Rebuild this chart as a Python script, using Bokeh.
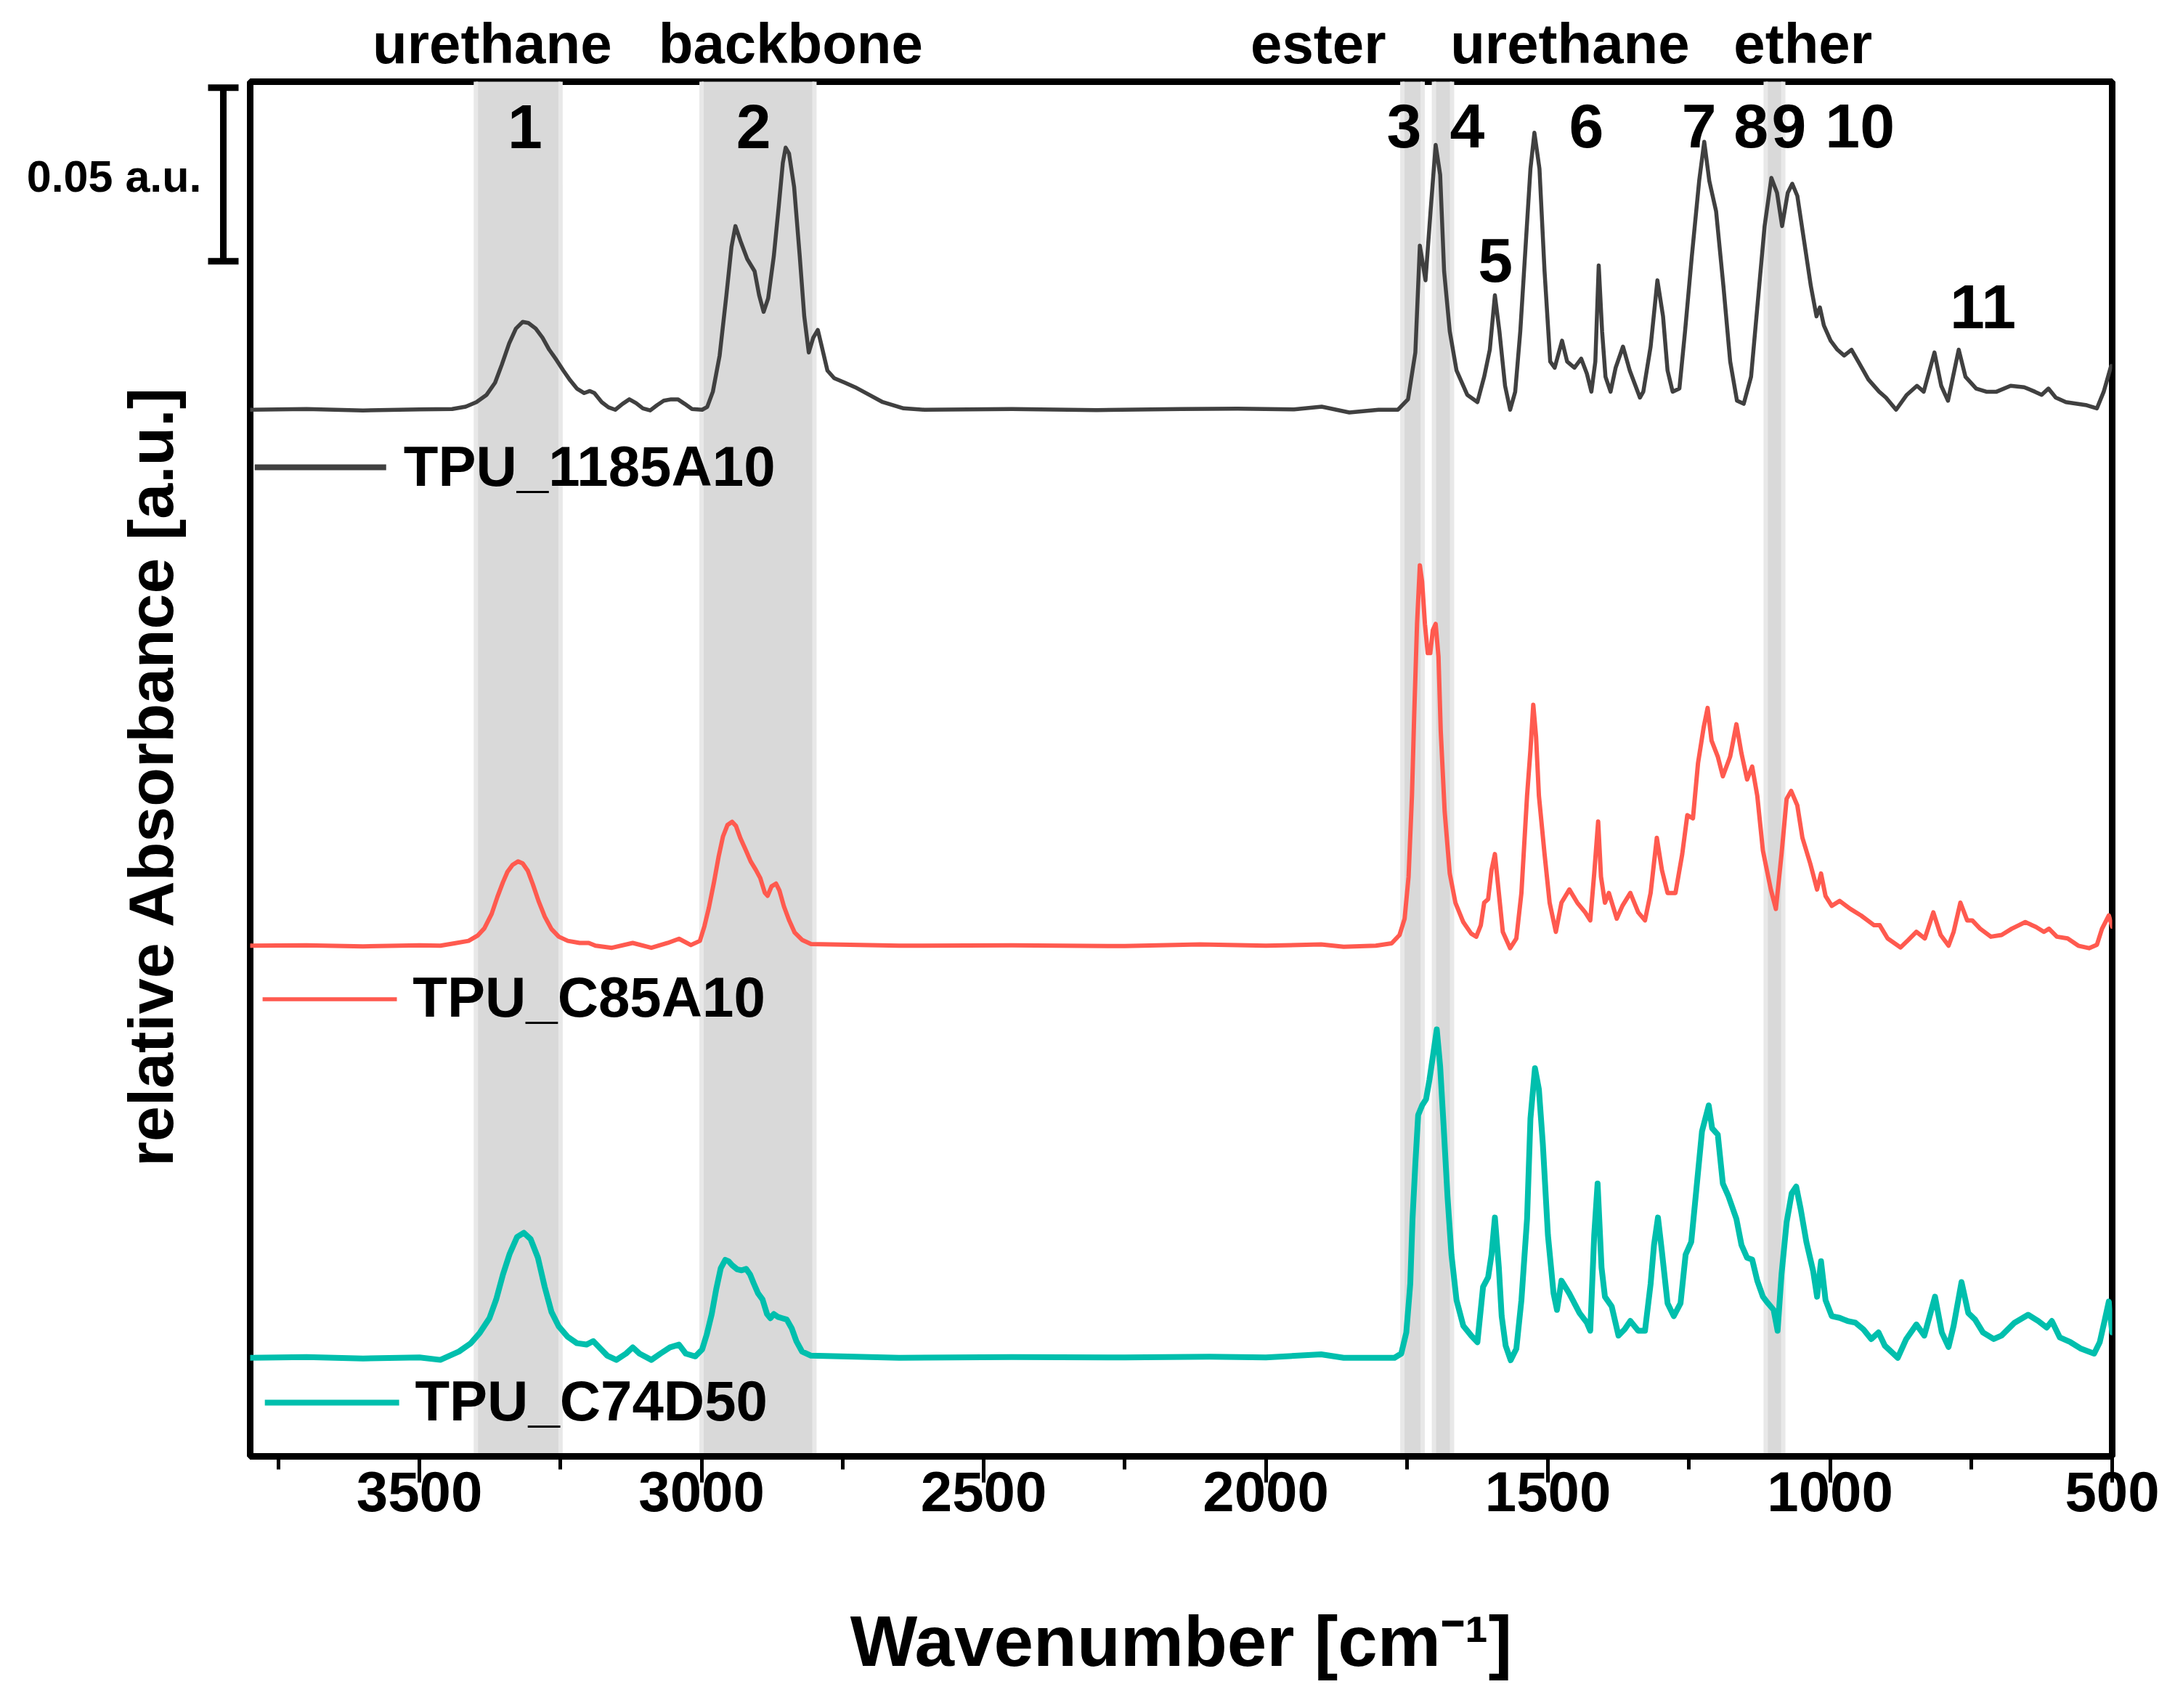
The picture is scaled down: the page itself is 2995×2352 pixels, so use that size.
import numpy as np
from bokeh.plotting import figure
from bokeh.models import Range1d, FixedTicker, Label
from bokeh.layouts import row, column
from bokeh.embed import file_html
from bokeh.resources import INLINE

FONT = "Liberation Sans"

# ---------------- data ----------------
gray_wn = [3800, 3700, 3600, 3500, 3442, 3418, 3399, 3381, 3366, 3354, 3341, 3329, 3317, 3307, 3294, 3282, 3270,
           3257, 3245, 3233, 3221, 3208, 3198, 3190, 3177, 3165, 3153, 3140, 3128, 3116, 3104, 3091, 3079, 3067,
           3054, 3042, 3030, 3017, 2999, 2990, 2980, 2968, 2956, 2947, 2940, 2931, 2919, 2906, 2898, 2890, 2882,
           2872, 2863, 2856, 2851, 2845, 2836, 2826, 2818, 2810, 2802, 2794, 2787, 2777, 2765, 2746, 2728, 2703,
           2679, 2642, 2605, 2450, 2300, 2150, 2050, 1950,
           1901, 1852, 1800, 1766, 1748, 1735, 1727, 1717, 1708, 1699, 1691, 1684, 1674, 1662, 1643, 1625, 1613,
           1603, 1594, 1586, 1576, 1567, 1558, 1549, 1539, 1531, 1524, 1515, 1506, 1496, 1488, 1475, 1466, 1453,
           1441, 1431, 1423, 1416, 1410, 1404, 1398, 1389, 1380, 1367, 1355, 1337, 1331, 1318, 1306, 1296, 1288,
           1279, 1267, 1257, 1245, 1232, 1223, 1214, 1202, 1189, 1177, 1165, 1153, 1140, 1128, 1116, 1104, 1094,
           1085, 1075, 1067, 1058, 1046, 1034, 1024, 1018, 1011, 999, 987, 975, 962, 950, 932, 913, 901, 883, 864,
           846, 834, 815, 803, 791, 772, 760, 741, 723, 705, 680, 656, 637, 625, 613, 600, 582, 545, 527, 515, 502,
           500]
gray_abs = [0.0000, 0.0002, -0.0002, 0.0001, 0.0002, 0.0009, 0.0022, 0.0043, 0.0078, 0.0130, 0.0191, 0.0234,
            0.0253, 0.0250, 0.0234, 0.0208, 0.0173, 0.0143, 0.0113, 0.0085, 0.0061, 0.0048, 0.0054, 0.0048,
            0.0022, 0.0007, 0.0000, 0.0017, 0.0030, 0.0019, 0.0004, -0.0002, 0.0013, 0.0026, 0.0030, 0.0030,
            0.0017, 0.0002, 0.0000, 0.0008, 0.0052, 0.0156, 0.0330, 0.0469, 0.0529, 0.0486, 0.0434, 0.0399,
            0.0330, 0.0282, 0.0321, 0.0442, 0.0590, 0.0711, 0.0755, 0.0738, 0.0642, 0.0442, 0.0269, 0.0165,
            0.0208, 0.0230, 0.0182, 0.0113, 0.0091, 0.0078, 0.0065, 0.0043, 0.0022, 0.0004, 0.0000, 0.0002,
            -0.0001, 0.0002, 0.0003, 0.0001,
            0.0009, -0.0008, 0.0000, 0.0000, 0.0030, 0.0165, 0.0473, 0.0373, 0.0572,
            0.0763, 0.0677, 0.0399, 0.0226, 0.0113, 0.0043, 0.0022, 0.0095, 0.0173, 0.0330, 0.0226, 0.0069,
            0.0000, 0.0052, 0.0226, 0.0486, 0.0694, 0.0798, 0.0694, 0.0399, 0.0139, 0.0121, 0.0199, 0.0139,
            0.0121, 0.0147, 0.0104, 0.0052, 0.0139, 0.0416, 0.0226, 0.0095, 0.0052, 0.0121, 0.0182, 0.0113,
            0.0035, 0.0052, 0.0182, 0.0373, 0.0269, 0.0113, 0.0052, 0.0061, 0.0226, 0.0442, 0.0659, 0.0772,
            0.0659, 0.0572, 0.0356, 0.0139, 0.0026, 0.0017, 0.0095, 0.0312, 0.0529, 0.0668, 0.0625, 0.0529,
            0.0625, 0.0651, 0.0616, 0.0486, 0.0356, 0.0269, 0.0295, 0.0243, 0.0199, 0.0173, 0.0156, 0.0173,
            0.0139, 0.0087, 0.0052, 0.0035, 0.0000, 0.0043, 0.0069, 0.0052, 0.0165, 0.0069, 0.0026, 0.0173,
            0.0095, 0.0061, 0.0052, 0.0052, 0.0069, 0.0065, 0.0052, 0.0043, 0.0061, 0.0035, 0.0022, 0.0013,
            0.0004, 0.0052, 0.0126, 0.0126]

red_wn = [3800, 3700, 3600, 3500, 3463, 3438, 3413, 3397, 3385, 3372, 3362, 3352, 3344, 3335, 3325, 3317, 3308,
          3299, 3289, 3278, 3266, 3253, 3237, 3216, 3200, 3188, 3159, 3122, 3089, 3060, 3040, 3019, 3003, 2995,
          2987, 2978, 2970, 2962, 2954, 2946, 2939, 2931, 2921, 2913, 2904, 2896, 2888, 2883, 2876, 2868, 2862,
          2854, 2845, 2835, 2822, 2806, 2650, 2450, 2250, 2117, 2000, 1902, 1862, 1805, 1777,
          1763, 1754, 1747, 1741, 1737, 1732, 1727, 1723, 1718, 1713, 1708.5, 1704, 1699, 1694, 1690, 1683, 1674,
          1664, 1650, 1636, 1627, 1619, 1613, 1606, 1600, 1594, 1587, 1580, 1567, 1556, 1547, 1537, 1531, 1526,
          1521, 1516, 1506, 1497, 1486, 1476, 1462, 1448, 1434, 1425, 1418, 1411, 1406, 1399, 1392, 1378, 1368,
          1354, 1340, 1328, 1318, 1307, 1298, 1288, 1274, 1262, 1253, 1243, 1234, 1224, 1217, 1210, 1199, 1190,
          1177, 1166, 1157, 1147, 1138, 1129, 1119, 1105, 1096, 1086, 1077, 1069, 1058, 1049, 1035, 1023, 1016,
          1008, 997, 983, 964, 945, 922, 912, 898, 875, 861, 847, 832, 817, 804, 790, 781, 769, 757, 748, 734,
          715, 696, 678, 654, 635, 621, 612, 598, 579, 560, 541, 527, 518, 506, 500]
red_abs = [0.0000, 0.0001, -0.0002, 0.0001, 0.0000, 0.0007, 0.0014, 0.0029, 0.0050, 0.0092, 0.0140, 0.0183,
           0.0213, 0.0233, 0.0243, 0.0237, 0.0216, 0.0177, 0.0129, 0.0084, 0.0048, 0.0026, 0.0014, 0.0008,
           0.0008, 0.0000, -0.0006, 0.0008, -0.0006, 0.0008, 0.0020, 0.0002, 0.0014, 0.0056, 0.0110, 0.0183,
           0.0255, 0.0315, 0.0348, 0.0357, 0.0345, 0.0309, 0.0273, 0.0243, 0.0219, 0.0195, 0.0153, 0.0144,
           0.0171, 0.0179, 0.0159, 0.0113, 0.0074, 0.0038, 0.0017, 0.0005, 0.0000, 0.0001, -0.0001, 0.0004,
           0.0000, 0.0004, -0.0003, 0.0000, 0.0007,
           0.0031, 0.0078, 0.0199, 0.0432, 0.0666, 0.0927, 0.1096, 0.1049, 0.0927,
           0.0843, 0.0843, 0.0909, 0.0927, 0.0834, 0.0619, 0.0386, 0.0208, 0.0124, 0.0068, 0.0035, 0.0026,
           0.0059, 0.0124, 0.0134, 0.0218, 0.0264, 0.0152, 0.0040, -0.0007, 0.0021, 0.0152, 0.0432, 0.0563,
           0.0694, 0.0601, 0.0432, 0.0264, 0.0124, 0.0040, 0.0124, 0.0162, 0.0124, 0.0096, 0.0073, 0.0208,
           0.0358, 0.0199, 0.0124, 0.0152, 0.0078, 0.0115, 0.0152, 0.0096, 0.0073, 0.0152, 0.0311, 0.0218,
           0.0152, 0.0152, 0.0264, 0.0376, 0.0367, 0.0526, 0.0629, 0.0685, 0.0591, 0.0545, 0.0488, 0.0545,
           0.0638, 0.0554, 0.0479, 0.0516, 0.0432, 0.0274, 0.0162, 0.0106, 0.0264, 0.0423, 0.0446, 0.0404,
           0.0311, 0.0236, 0.0162, 0.0208, 0.0143, 0.0115, 0.0129, 0.0106, 0.0087, 0.0059, 0.0059, 0.0021,
           -0.0005, 0.0017, 0.0040, 0.0021, 0.0096, 0.0031, 0.0000, 0.0040, 0.0124, 0.0073, 0.0073, 0.0049,
           0.0026, 0.0031, 0.0049, 0.0068, 0.0054, 0.0040, 0.0049, 0.0026, 0.0021, 0.0000, -0.0007, 0.0003,
           0.0049, 0.0087, 0.0055]

teal_wn = [3800, 3700, 3600, 3500, 3463, 3430, 3409, 3393, 3376, 3364, 3352, 3340, 3327, 3315, 3303, 3290, 3278,
           3266, 3253, 3237, 3221, 3204, 3192, 3179, 3167, 3151, 3134, 3122, 3110, 3089, 3073, 3056, 3040, 3028,
           3011, 2999, 2991, 2982, 2974, 2966, 2958, 2952, 2946, 2937, 2929, 2921, 2914, 2908, 2900, 2892, 2884,
           2878, 2872, 2865, 2857, 2849, 2840, 2832, 2822, 2806, 2650, 2450, 2250, 2100, 2000, 1902, 1862, 1772,
           1760, 1751,
           1744, 1740, 1735, 1730, 1723, 1716, 1710, 1704, 1697, 1691, 1685, 1678, 1671, 1662, 1650, 1636, 1625,
           1615, 1606, 1600, 1594, 1587, 1582, 1575, 1566, 1556, 1547, 1537, 1531, 1523, 1516, 1509, 1500, 1490,
           1484, 1476, 1462, 1444, 1431, 1425, 1418, 1412, 1405, 1399, 1387, 1375, 1364, 1354, 1340, 1328, 1318,
           1312, 1305, 1298, 1288, 1277, 1265, 1256, 1246, 1237, 1227, 1215, 1209, 1199, 1190, 1180, 1166, 1157,
           1147, 1138, 1129, 1119, 1110, 1100, 1093, 1086, 1077, 1068, 1060, 1052, 1042, 1030, 1023, 1016, 1008,
           997, 983, 969, 955, 941, 927, 914, 903, 880, 865, 847, 833, 814, 802, 790, 781, 767, 755, 743, 729,
           710, 696, 673, 649, 631, 616, 607, 593, 574, 555, 532, 522, 513, 506, 500]
teal_abs = [0.0000, 0.0002, -0.0002, 0.0001, -0.0006, 0.0018, 0.0042, 0.0072, 0.0114, 0.0168, 0.0240, 0.0300,
            0.0348, 0.0360, 0.0342, 0.0288, 0.0204, 0.0132, 0.0090, 0.0060, 0.0042, 0.0038, 0.0048, 0.0026,
            0.0006, -0.0006, 0.0012, 0.0030, 0.0012, -0.0006, 0.0012, 0.0030, 0.0038, 0.0012, 0.0004, 0.0024,
            0.0066, 0.0126, 0.0198, 0.0258, 0.0282, 0.0278, 0.0267, 0.0255, 0.0252, 0.0256, 0.0240, 0.0216,
            0.0186, 0.0168, 0.0126, 0.0114, 0.0126, 0.0118, 0.0114, 0.0110, 0.0084, 0.0048, 0.0018, 0.0006,
            0.0000, 0.0002, 0.0001, 0.0003, 0.0001, 0.0010, 0.0000, 0.0000, 0.0012, 0.0073,
            0.0213, 0.0400, 0.0559, 0.0699, 0.0727, 0.0745, 0.0801, 0.0867, 0.0946,
            0.0839, 0.0671, 0.0465, 0.0297, 0.0166, 0.0092, 0.0064, 0.0045, 0.0204, 0.0232, 0.0297, 0.0404,
            0.0260, 0.0120, 0.0035, -0.0007, 0.0026, 0.0166, 0.0400, 0.0689, 0.0834, 0.0773, 0.0615, 0.0353,
            0.0185, 0.0138, 0.0222, 0.0185, 0.0129, 0.0101, 0.0078, 0.0353, 0.0502, 0.0260, 0.0176, 0.0148,
            0.0064, 0.0082, 0.0106, 0.0078, 0.0078, 0.0213, 0.0325, 0.0404, 0.0306, 0.0157, 0.0120, 0.0157,
            0.0297, 0.0334, 0.0484, 0.0652, 0.0727, 0.0661, 0.0643, 0.0502, 0.0465, 0.0400, 0.0325, 0.0288,
            0.0283, 0.0222, 0.0176, 0.0157, 0.0138, 0.0078, 0.0241, 0.0390, 0.0474, 0.0493, 0.0428, 0.0334,
            0.0250, 0.0176, 0.0278, 0.0166, 0.0120, 0.0115, 0.0106, 0.0101, 0.0082, 0.0054, 0.0073, 0.0035,
            0.0000, 0.0054, 0.0096, 0.0064, 0.0176, 0.0073, 0.0031, 0.0092, 0.0218, 0.0129, 0.0110, 0.0073,
            0.0054, 0.0064, 0.0101, 0.0124, 0.0106, 0.0087, 0.0106, 0.0059, 0.0045, 0.0026, 0.0012, 0.0045,
            0.0110, 0.0162, 0.0073]

# vertical stacking offsets of the three spectra
offsets = [0.3015, 0.1471, 0.0284]
series_names = ["TPU_1185A10", "TPU_C85A10", "TPU_C74D50"]
series_colors = ["#404040", "#ff5a4f", "#00bfad"]
series_widths = [5.5, 6, 8]
legend_widths = [8, 5.5, 8]

# highlighted bands (cm-1)
band_hi = [3400, 3000, 1758, 1702, 1114]
band_lo = [3250, 2800, 1722, 1670, 1083]

group_labels = ["urethane", "backbone", "ester", "urethane", "ether"]
group_pos = [3371, 2842, 1907, 1461, 1048]

peak_labels = ["1", "2", "3", "4", "5", "6", "7", "8", "9", "10", "11"]
peak_pos = [3313, 2908, 1755, 1643, 1593, 1432, 1232, 1140, 1073, 947, 729]
peak_y = [0.3830, 0.3830, 0.3833, 0.3833, 0.3446, 0.3833, 0.3833, 0.3833, 0.3833, 0.3833, 0.3312]

major_ticks = [3500, 3000, 2500, 2000, 1500, 1000, 500]
minor_ticks = [3750, 3250, 2750, 2250, 1750, 1250, 750]

SCALE_BAR = 0.05

X_RANGE = Range1d(3800, 500)
Y_RANGE = Range1d(0, 0.396)

# ---------------- main figure ----------------
main = figure(width=2661, height=2250, x_range=X_RANGE, y_range=Y_RANGE,
              output_backend="svg", toolbar_location=None, y_axis_location=None,
              min_border_left=10, min_border_right=87, min_border_top=10, min_border_bottom=347)
main.grid.visible = False
main.outline_line_color = "black"
main.outline_line_width = 9
main.outline_line_alpha = 1.0

main.quad(left=band_hi, right=band_lo, bottom=-0.01, top=0.41,
          fill_color="#d9d9d9", fill_alpha=1.0, line_color="#e8e8e8", line_width=6)

for wn, ab, off, col, lw in zip([gray_wn, red_wn, teal_wn], [gray_abs, red_abs, teal_abs],
                                offsets, series_colors, series_widths):
    main.line(wn, np.array(ab) + off, line_color=col, line_width=lw, line_join="round", line_cap="round")

# in-plot legends (sample line + label under each spectrum)
leg_x0 = [3792, 3778, 3774]
leg_x1 = [3559, 3540, 3536]
leg_line_y = [0.2849, 0.1317, 0.0155]
leg_text_x = [3528, 3512, 3508]
leg_text_y = [0.2853, 0.1324, 0.0160]
for i in range(3):
    main.segment(x0=[leg_x0[i]], y0=[leg_line_y[i]], x1=[leg_x1[i]], y1=[leg_line_y[i]],
                 line_color=series_colors[i], line_width=legend_widths[i])
    main.add_layout(Label(x=leg_text_x[i], y=leg_text_y[i], text=series_names[i], text_font=FONT,
                          text_font_style="bold", text_font_size="78px", text_color="black",
                          text_align="left", text_baseline="alphabetic"))

for t, x, y in zip(peak_labels, peak_pos, peak_y):
    main.add_layout(Label(x=x, y=y, text=t, text_font=FONT, text_font_style="bold",
                          text_font_size="86px", text_color="black", text_align="center",
                          text_baseline="alphabetic"))

ax = main.xaxis[0]
ax.ticker = FixedTicker(ticks=major_ticks, minor_ticks=minor_ticks)
ax.axis_label = "Wavenumber [cm\u207b\u00b9]"
ax.axis_label_text_font = FONT
ax.axis_label_text_font_size = "98px"
ax.axis_label_text_font_style = "bold"
ax.axis_label_text_color = "black"
ax.axis_label_standoff = 121
ax.major_label_text_font = FONT
ax.major_label_text_font_size = "78px"
ax.major_label_text_font_style = "bold"
ax.major_label_text_color = "black"
ax.major_label_standoff = -15
ax.major_tick_in = 0
ax.major_tick_out = 36
ax.minor_tick_in = 0
ax.minor_tick_out = 18
ax.major_tick_line_width = 5
ax.minor_tick_line_width = 5
ax.major_tick_line_color = "black"
ax.minor_tick_line_color = "black"
ax.axis_line_width = 9
ax.axis_line_color = "black"

# ---------------- top strip: functional-group labels ----------------
top = figure(width=2995, height=102, x_range=X_RANGE, y_range=Range1d(0, 102),
             output_backend="svg", toolbar_location=None, x_axis_location=None, y_axis_location=None,
             min_border_left=344, min_border_right=87, min_border_top=0, min_border_bottom=0)
top.grid.visible = False
top.outline_line_color = None
for t, x in zip(group_labels, group_pos):
    top.add_layout(Label(x=x, y=43, text=t, text_font=FONT, text_font_style="bold",
                         text_font_size="78px", text_color="black", text_align="center",
                         text_baseline="alphabetic"))

# ---------------- left strip: y label and scale bar ----------------
left = figure(width=334, height=2250, x_range=Range1d(0, 334), y_range=Y_RANGE,
              output_backend="svg", toolbar_location=None, x_axis_location=None, y_axis_location=None,
              min_border_left=0, min_border_right=0, min_border_top=10, min_border_bottom=347)
left.grid.visible = False
left.outline_line_color = None

bar_top = 0.3943
bar_bot = bar_top - SCALE_BAR
left.segment(x0=[307, 286, 286], y0=[bar_bot, bar_top, bar_bot], x1=[307, 328, 328], y1=[bar_top, bar_top, bar_bot],
             line_color="black", line_width=9)
left.add_layout(Label(x=277, y=0.3688, text="%.2f a.u." % SCALE_BAR, text_font=FONT, text_font_style="bold",
                      text_font_size="61px", text_color="black", text_align="right", text_baseline="alphabetic"))
left.add_layout(Label(x=207, y=0.1960, text="relative Absorbance [a.u.]", angle=np.pi / 2, text_font=FONT,
                      text_font_style="bold", text_font_size="88px", text_color="black",
                      text_align="center", text_baseline="alphabetic"))

layout = column(top, row(left, main))
open("out.html", "w").write(file_html(layout, INLINE, title="FTIR spectra"))
